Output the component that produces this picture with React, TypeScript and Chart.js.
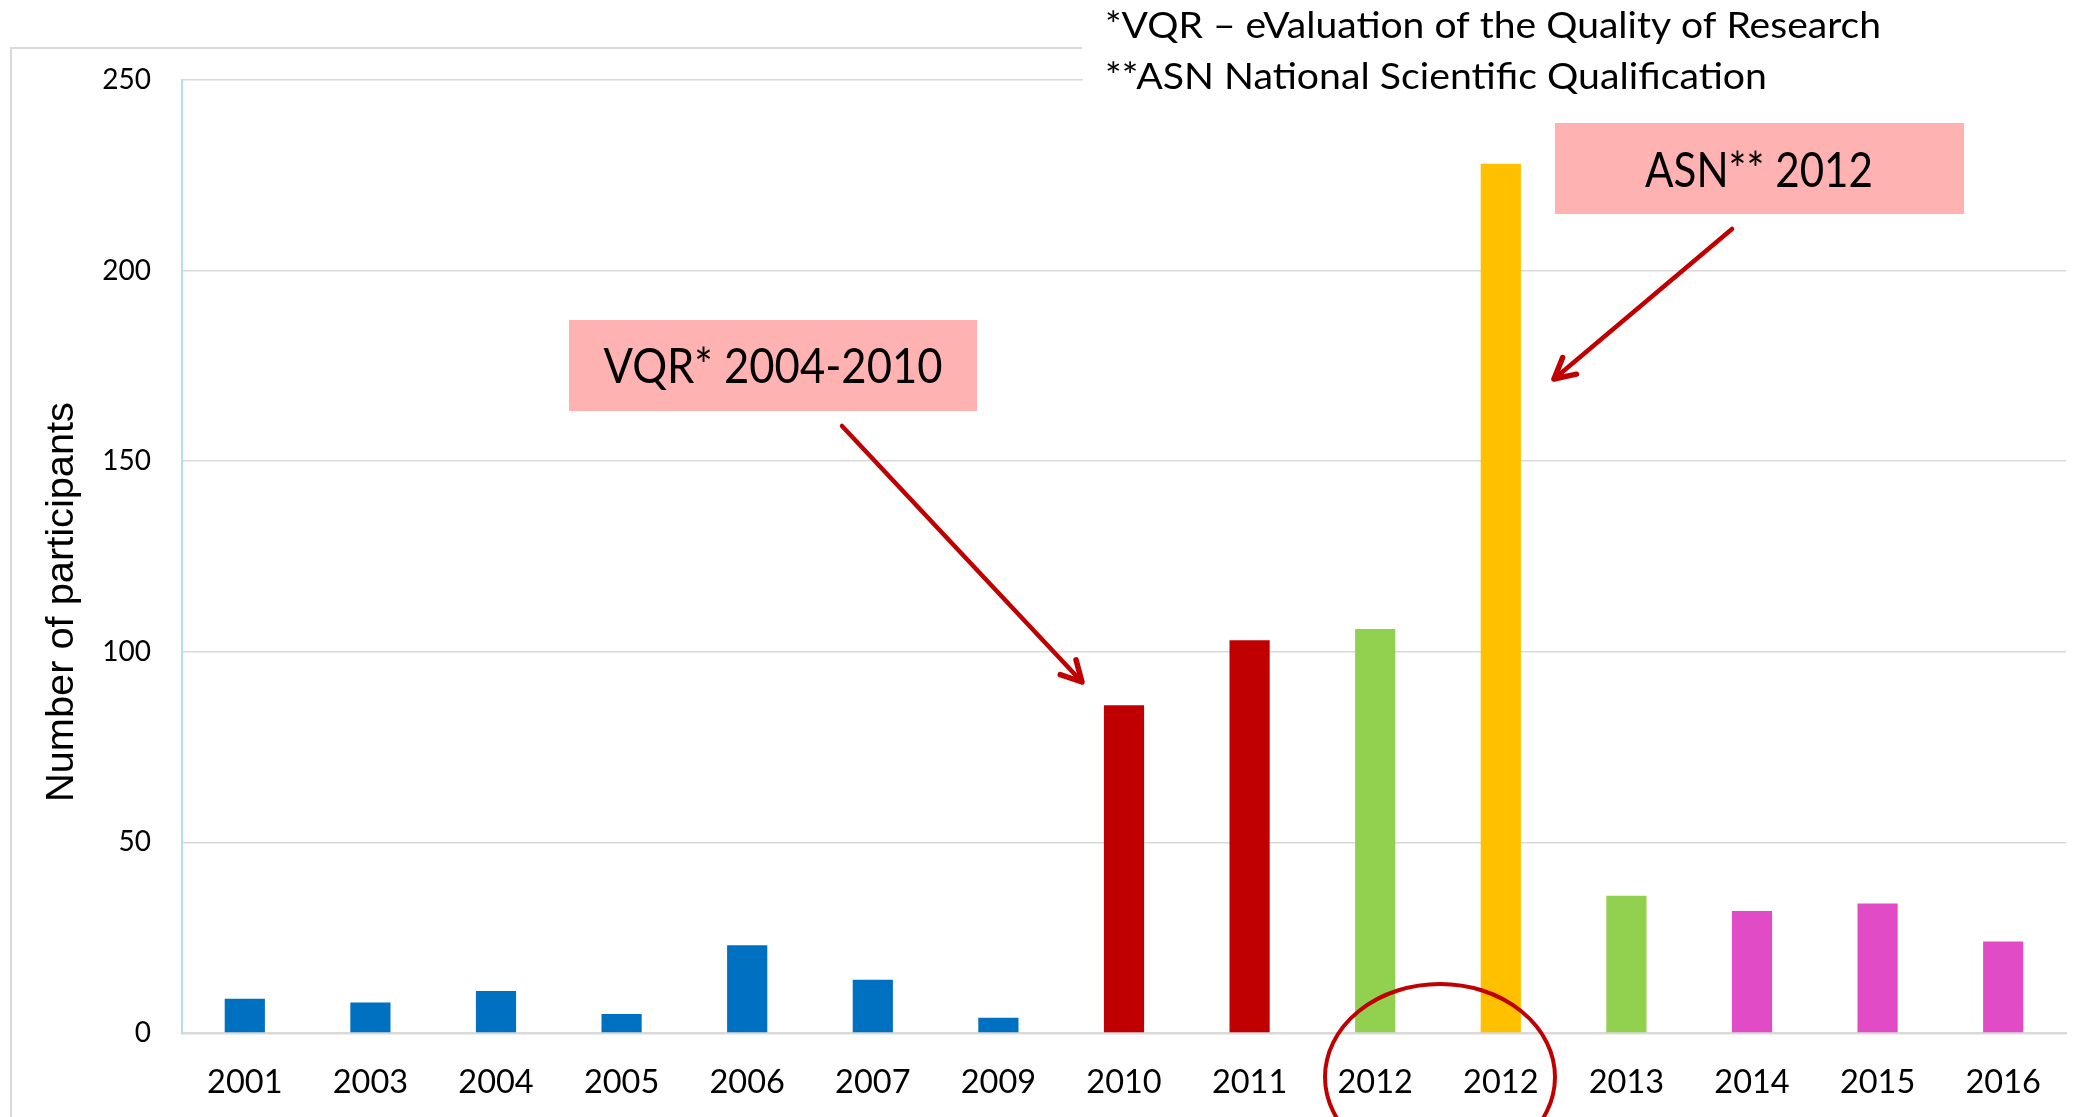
import React, { useEffect, useRef } from 'react';
import { Chart, registerables } from 'chart.js';

Chart.register(...registerables);

// ---- data ----
const categories = ['2001', '2003', '2004', '2005', '2006', '2007', '2009', '2010', '2011', '2012', '2012', '2013', '2014', '2015', '2016'];
const participants = [9, 8, 11, 5, 23, 14, 4, 86, 103, 106, 228, 36, 32, 34, 24];
const BLUE = '#0070C0';
const RED = '#C00000';
const GREEN = '#92D050';
const ORANGE = '#FFC000';
const MAGENTA = '#E24BC6';
const barColors = [BLUE, BLUE, BLUE, BLUE, BLUE, BLUE, BLUE, RED, RED, GREEN, ORANGE, GREEN, MAGENTA, MAGENTA, MAGENTA];
const yTickValues = [0, 50, 100, 150, 200, 250];
const yTitle = 'Number of participants';
const footnotes = ['*VQR \u2013 eValuation of the Quality of Research', '**ASN National Scientific Qualification'];
const calloutTexts = ['VQR* 2004-2010', 'ASN** 2012'];

// ---- helpers ----
function fitText(ctx: CanvasRenderingContext2D, text: string, x: number, y: number, width: number, font: string, align: 'left' | 'center' = 'left') {
  ctx.save();
  ctx.font = font;
  ctx.textBaseline = 'alphabetic';
  ctx.textAlign = 'left';
  const w = ctx.measureText(text).width;
  const s = width / w;
  ctx.translate(align === 'center' ? x - width / 2 : x, y);
  ctx.scale(s, 1);
  ctx.fillStyle = '#000';
  ctx.fillText(text, 0, 0);
  ctx.restore();
}

function arrow(ctx: CanvasRenderingContext2D, x1: number, y1: number, x2: number, y2: number) {
  ctx.save();
  ctx.strokeStyle = RED;
  ctx.lineWidth = 4.5;
  ctx.lineCap = 'round';
  ctx.lineJoin = 'round';
  ctx.beginPath();
  ctx.moveTo(x1, y1);
  ctx.lineTo(x2, y2);
  ctx.stroke();
  const ang = Math.atan2(y1 - y2, x1 - x2);
  const len = 23;
  const spread = (28 * Math.PI) / 180;
  ctx.lineWidth = 5.5;
  ctx.beginPath();
  ctx.moveTo(x2 + len * Math.cos(ang - spread), y2 + len * Math.sin(ang - spread));
  ctx.lineTo(x2, y2);
  ctx.lineTo(x2 + len * Math.cos(ang + spread), y2 + len * Math.sin(ang + spread));
  ctx.stroke();
  ctx.restore();
}

const decorPlugin = {
  id: 'decor',
  beforeDraw(chart: any) {
    const ctx: CanvasRenderingContext2D = chart.ctx;
    ctx.save();
    ctx.fillStyle = '#fff';
    ctx.fillRect(0, 0, chart.width, chart.height);
    // outer frame (left + top)
    ctx.strokeStyle = '#D9D9D9';
    ctx.lineWidth = 2;
    ctx.beginPath();
    ctx.moveTo(11, chart.height);
    ctx.lineTo(11, 48);
    ctx.lineTo(1082, 48);
    ctx.stroke();
    ctx.restore();
  },
  afterDraw(chart: any) {
    const ctx: CanvasRenderingContext2D = chart.ctx;
    // footnote box (white, covers frame and top gridline)
    ctx.save();
    ctx.fillStyle = '#fff';
    ctx.fillRect(1083, 0, chart.width - 1083, 100);
    ctx.restore();
    fitText(ctx, footnotes[0], 1105, 38, 776, '37px Lato');
    fitText(ctx, footnotes[1], 1105, 89, 662, '37px Lato');

    // callout boxes
    ctx.save();
    ctx.fillStyle = '#FFB2B2';
    ctx.fillRect(569, 320, 408, 91);
    ctx.fillRect(1555, 123, 409, 91);
    ctx.restore();
    fitText(ctx, calloutTexts[0], 773, 383, 339, '48px Lato', 'center');
    fitText(ctx, calloutTexts[1], 1759, 187, 228, '48px Lato', 'center');

    // arrows
    arrow(ctx, 842, 426, 1082, 682);
    arrow(ctx, 1732, 229, 1554, 379);

    // ellipse around the two 2012 columns
    ctx.save();
    ctx.strokeStyle = RED;
    ctx.lineWidth = 4;
    ctx.beginPath();
    ctx.ellipse(1440, 1077, 115, 93, 0, 0, Math.PI * 2);
    ctx.stroke();
    ctx.restore();

    // y-axis title
    ctx.save();
    ctx.translate(73, 802);
    ctx.rotate(-Math.PI / 2);
    ctx.font = '39px "Liberation Sans"';
    const w = ctx.measureText(yTitle).width;
    ctx.scale(400 / w, 1);
    ctx.fillStyle = '#000';
    ctx.textBaseline = 'alphabetic';
    ctx.fillText(yTitle, 0, 0);
    ctx.restore();
  },
};

export default function App() {
  const ref = useRef<HTMLCanvasElement | null>(null);
  useEffect(() => {
    if (!ref.current) return;
    const chart = new Chart(ref.current, {
      type: 'bar',
      data: {
        labels: categories,
        datasets: [
          {
            data: participants,
            backgroundColor: barColors,
            borderWidth: 0,
            barPercentage: 0.32,
            categoryPercentage: 1,
          },
        ],
      },
      options: {
        responsive: false,
        animation: false,
        devicePixelRatio: 1,
        layout: { padding: { top: 80, right: 27, left: 0, bottom: 0 } },
        plugins: { legend: { display: false }, tooltip: { enabled: false } },
        scales: {
          x: {
            grid: { display: false, drawTicks: false },
            border: { display: true, color: '#D9D9D9', width: 2.5 },
            ticks: { color: '#000', font: { family: 'Lato', size: 32.5 }, padding: 30, maxRotation: 0, autoSkip: false },
            afterFit: (s: any) => {
              s.height = 84;
            },
          },
          y: {
            min: 0,
            max: 250,
            grid: { color: '#D9D9D9', lineWidth: 1.5, drawTicks: false },
            border: { display: true, color: '#B7DDE6', width: 2 },
            ticks: { color: '#000', font: { family: 'Lato', size: 28 }, padding: 31 },
            afterBuildTicks: (s: any) => {
              s.ticks = yTickValues.map((v) => ({ value: v }));
            },
            afterFit: (s: any) => {
              s.width = 182;
            },
          },
        },
      },
      plugins: [decorPlugin],
    });
    return () => chart.destroy();
  }, []);
  return (
    <div style={{ position: 'absolute', left: 0, top: 0, width: 2093, height: 1117 }}>
      <canvas ref={ref} width={2093} height={1117} style={{ display: 'block' }} />
    </div>
  );
}
